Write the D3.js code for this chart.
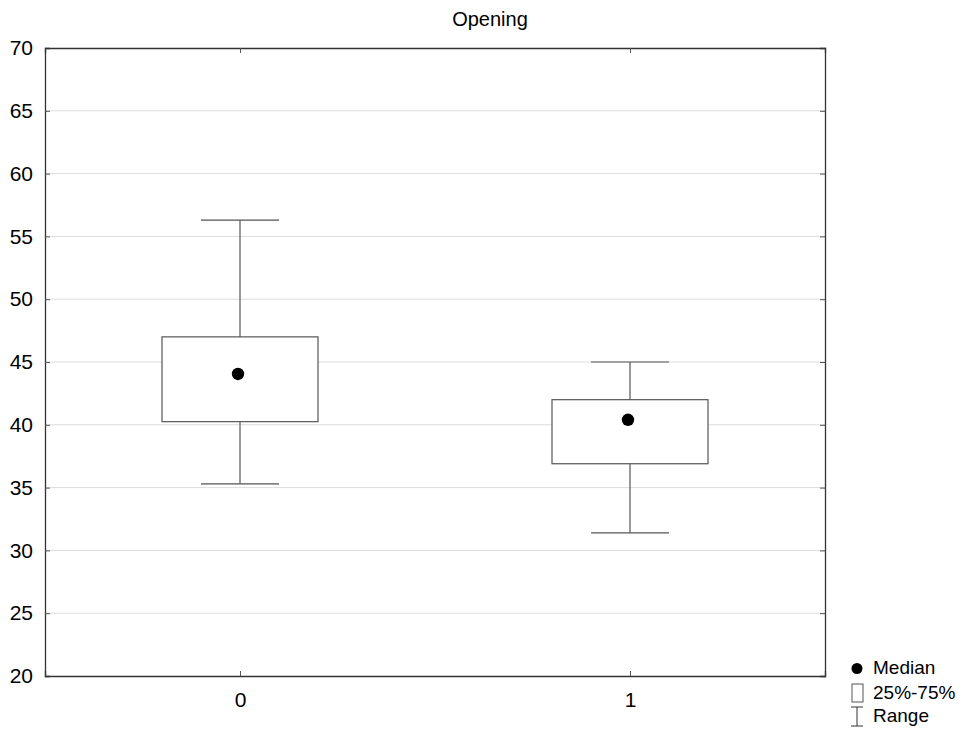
<!DOCTYPE html>
<html>
<head>
<meta charset="utf-8">
<script src="https://cdn.jsdelivr.net/npm/d3@7"></script>
<style>
  body { margin: 0; background: #fff; }
  text { font-family: "Liberation Sans", Arial, sans-serif; fill: #000; }
</style>
</head>
<body>
<svg id="chart" width="968" height="729"></svg>
<script>
// data
const groups   = ['0', '1'];
const mins     = [35.3, 31.4];
const q1s      = [40.25, 36.9];
const medians  = [44.05, 40.4];
const q3s      = [47.0, 42.0];
const maxs     = [56.3, 45.0];
const yTicks   = [20, 25, 30, 35, 40, 45, 50, 55, 60, 65, 70];
const legendItems = ['Median', '25%-75%', 'Range'];

const boxes = groups.map((g, i) => ({
  g, min: mins[i], q1: q1s[i], med: medians[i], q3: q3s[i], max: maxs[i]
}));

const svg = d3.select('#chart');
const m = { left: 45, right: 143, top: 48, bottom: 53 };
const W = 968, H = 729;

const x = d3.scalePoint().domain(groups).range([m.left, W - m.right]).padding(0.5);
const y = d3.scaleLinear().domain([20, 70]).range([H - m.bottom, m.top]);
const plotW = W - m.right - m.left;
const boxW = plotW * 0.2;

// grid
svg.append('g')
  .selectAll('line')
  .data(yTicks.slice(1, -1))
  .join('line')
    .attr('x1', m.left).attr('x2', W - m.right)
    .attr('y1', d => y(d)).attr('y2', d => y(d))
    .attr('stroke', '#dcdcdc').attr('stroke-width', 1);

// axes
const yAxis = svg.append('g')
  .attr('transform', `translate(${m.left},0)`)
  .call(d3.axisLeft(y).tickValues(yTicks).tickSize(-5).tickPadding(12));
yAxis.selectAll('text').style('font-size', '21px');

const yAxisR = svg.append('g')
  .attr('transform', `translate(${W - m.right},0)`)
  .call(d3.axisRight(y).tickValues(yTicks).tickSize(-5).tickFormat(''));

const xAxis = svg.append('g')
  .attr('transform', `translate(0,${H - m.bottom})`)
  .call(d3.axisBottom(x).tickSize(-5).tickPadding(16));
xAxis.selectAll('text').style('font-size', '21px');

const xAxisT = svg.append('g')
  .attr('transform', `translate(0,${m.top})`)
  .call(d3.axisTop(x).tickSize(-5).tickFormat(''));

[yAxis, yAxisR, xAxis, xAxisT].forEach(a => {
  a.select('.domain').attr('stroke', '#333').attr('stroke-width', 1.3);
  a.selectAll('.tick line').attr('stroke', '#555');
});

// boxes
const bx = svg.append('g').selectAll('g').data(boxes).join('g');

bx.append('line')
  .attr('x1', d => x(d.g)).attr('x2', d => x(d.g))
  .attr('y1', d => y(d.max)).attr('y2', d => y(d.min))
  .attr('stroke', '#555').attr('stroke-width', 1.2);

bx.selectAll('.cap')
  .data(d => [{ g: d.g, v: d.max }, { g: d.g, v: d.min }])
  .join('line')
    .attr('class', 'cap')
    .attr('x1', d => x(d.g) - boxW / 4).attr('x2', d => x(d.g) + boxW / 4)
    .attr('y1', d => y(d.v)).attr('y2', d => y(d.v))
    .attr('stroke', '#555').attr('stroke-width', 1.2);

bx.append('rect')
  .attr('x', d => x(d.g) - boxW / 2)
  .attr('y', d => y(d.q3))
  .attr('width', boxW)
  .attr('height', d => y(d.q1) - y(d.q3))
  .attr('fill', '#fff').attr('stroke', '#555').attr('stroke-width', 1.2);

bx.append('circle')
  .attr('cx', d => x(d.g) - 2)
  .attr('cy', d => y(d.med))
  .attr('r', 6.2)
  .attr('fill', '#000');

// title
svg.append('text')
  .attr('x', 490).attr('y', 26)
  .attr('text-anchor', 'middle')
  .style('font-size', '20px')
  .text('Opening');

// legend
const lg = svg.append('g').attr('transform', 'translate(851,0)');
const ly = [668.5, 693, 716.5];
lg.append('circle').attr('cx', 6).attr('cy', ly[0]).attr('r', 5.5).attr('fill', '#000');
lg.append('rect').attr('x', 1).attr('y', ly[1] - 9).attr('width', 11).attr('height', 18)
  .attr('fill', '#fff').attr('stroke', '#555');
lg.append('path')
  .attr('d', `M0,${ly[2] - 9.5}H12M6,${ly[2] - 9.5}V${ly[2] + 9.5}M0,${ly[2] + 9.5}H12`)
  .attr('stroke', '#333').attr('fill', 'none');
lg.selectAll('text.lab')
  .data(legendItems)
  .join('text')
    .attr('class', 'lab')
    .attr('x', 22)
    .attr('y', (d, i) => [674, 699, 722][i])
    .style('font-size', '19px')
    .text(d => d);
</script>
</body>
</html>
